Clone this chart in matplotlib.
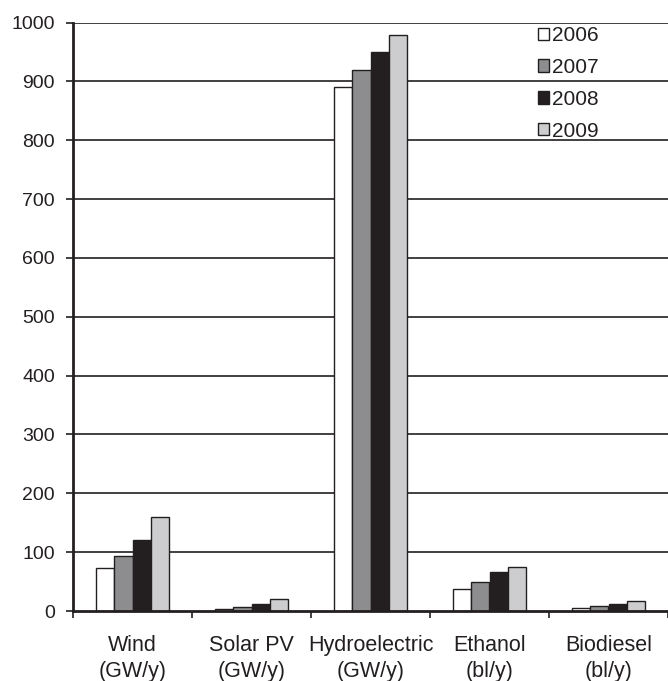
import matplotlib
matplotlib.use("Agg")
import matplotlib.pyplot as plt
import numpy as np

categories = ["Wind\n(GW/y)", "Solar PV\n(GW/y)", "Hydroelectric\n(GW/y)", "Ethanol\n(bl/y)", "Biodiesel\n(bl/y)"]
years = ["2006", "2007", "2008", "2009"]
v2006 = [73, 4, 890, 38, 5]
v2007 = [93, 6, 919, 49, 8]
v2008 = [121, 12, 950, 67, 12]
v2009 = [159, 20, 979, 75, 17]
yticks = [0, 100, 200, 300, 400, 500, 600, 700, 800, 900, 1000]

series = [v2006, v2007, v2008, v2009]
colors = ["#ffffff", "#8d8d8f", "#231f20", "#cdcdcf"]

plt.rcParams['font.family'] = ['Liberation Sans', 'DejaVu Sans']

fig = plt.figure(figsize=(6.68, 6.81), dpi=100)
ax = fig.add_axes([73/668, 1-611/681, 1-73/668, (611-22.5)/681])

x = np.arange(len(categories))
w = 0.155
for i, (vals, c) in enumerate(zip(series, colors)):
    ax.bar(x + (i - 1.5) * w, vals, width=w, color=c, edgecolor="#231f20",
           linewidth=1.0, label=years[i], zorder=3)

ax.set_xlim(-0.5, 4.5)
ax.set_ylim(0, 1000)
ax.set_yticks(yticks)
ax.set_yticklabels([str(t) for t in yticks])
ax.yaxis.grid(True, color="#231f20", linewidth=1.2, zorder=0)
ax.set_axisbelow(True)
ax.yaxis.get_gridlines()[0].set_visible(False)

ax.set_xticks(np.arange(-0.5, 4.6, 1.0))
ax.set_xticklabels([])
ax.set_xticks(x, minor=True)
ax.set_xticklabels(categories, minor=True, linespacing=1.35)
ax.tick_params(axis='x', which='minor', length=0, pad=17, labelsize=15.5, colors="#231f20")
ax.tick_params(axis='x', which='major', length=5, width=1.2, direction='out', colors="#231f20")
ax.tick_params(axis='y', length=5, width=1.2, direction='out', pad=8, labelsize=14, colors="#231f20")

for s in ["top", "right"]:
    ax.spines[s].set_visible(False)
for s in ["left", "bottom"]:
    ax.spines[s].set_linewidth(2)
    ax.spines[s].set_color("#231f20")
    ax.spines[s].set_zorder(4)

leg = ax.legend(loc="upper left", bbox_to_anchor=(538/668, 1-26/681), bbox_transform=fig.transFigure,
                frameon=False, fontsize=15, handlelength=0.52, handleheight=0.52,
                handletextpad=0.15, labelspacing=0.62, borderpad=0, borderaxespad=0)
for t in leg.get_texts():
    t.set_color("#231f20")

fig.savefig("out.png", dpi=100)
